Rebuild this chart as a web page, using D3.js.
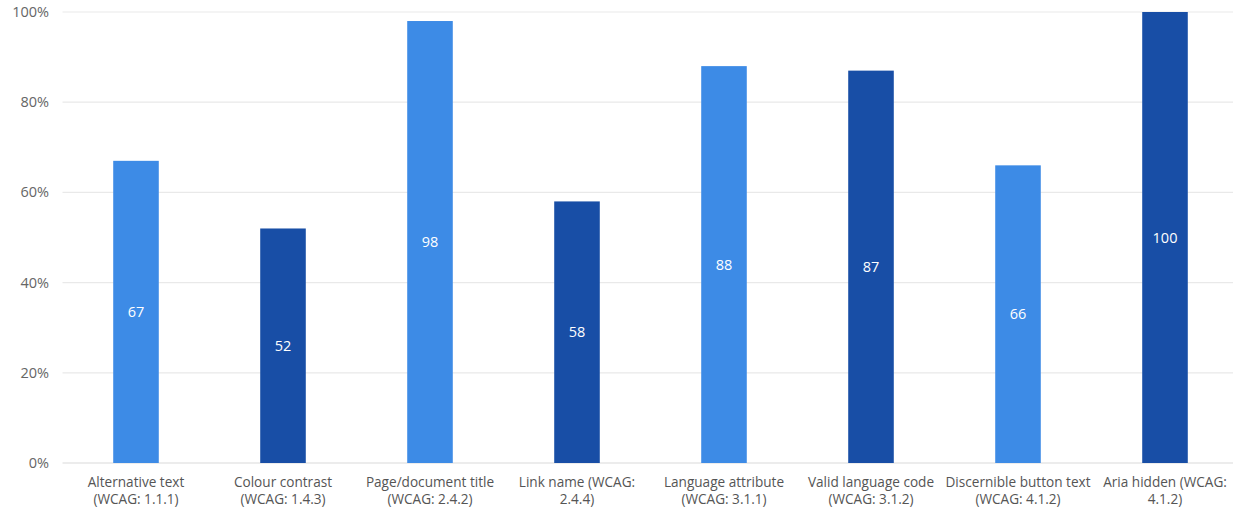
<!DOCTYPE html>
<html>
<head>
<meta charset="utf-8">
<script src="https://cdn.jsdelivr.net/npm/d3@7"></script>
<style>
  html, body { margin: 0; padding: 0; background: #fff; }
  svg { display: block; font-family: "Open Sans", "Noto Sans", sans-serif; }
</style>
</head>
<body>
<svg id="chart" width="1233" height="510"></svg>
<script>
// WCAG check pass rates (%)
const categories = [
  "Alternative text (WCAG: 1.1.1)",
  "Colour contrast (WCAG: 1.4.3)",
  "Page/document title (WCAG: 2.4.2)",
  "Link name (WCAG: 2.4.4)",
  "Language attribute (WCAG: 3.1.1)",
  "Valid language code (WCAG: 3.1.2)",
  "Discernible button text (WCAG: 4.1.2)",
  "Aria hidden (WCAG: 4.1.2)"
];
// wrapped label lines as they are set under each bar
const labelLines = [
  ["Alternative text", "(WCAG: 1.1.1)"],
  ["Colour contrast", "(WCAG: 1.4.3)"],
  ["Page/document title", "(WCAG: 2.4.2)"],
  ["Link name (WCAG:", "2.4.4)"],
  ["Language attribute", "(WCAG: 3.1.1)"],
  ["Valid language code", "(WCAG: 3.1.2)"],
  ["Discernible button text", "(WCAG: 4.1.2)"],
  ["Aria hidden (WCAG:", "4.1.2)"]
];
const values = [67, 52, 98, 58, 88, 87, 66, 100];
const yTicks = [0, 20, 40, 60, 80, 100];
const palette = ["#3d8be6", "#184ea6"];

const svg = d3.select("#chart");
const plotLeft = 62.5, plotRight = 1238.5, plotTop = 12, plotBottom = 463;

const x = d3.scaleBand().domain(categories).range([plotLeft, plotRight]).paddingInner(0.69).paddingOuter(0.345);
const y = d3.scaleLinear().domain([0, 100]).range([plotBottom, plotTop]);

// gridlines
svg.append("g").selectAll("line").data(yTicks).join("line")
  .attr("x1", plotLeft).attr("x2", 1233)
  .attr("y1", d => y(d)).attr("y2", d => y(d))
  .attr("stroke", d => d === 0 ? "#d9d9d9" : "#e9e9e9")
  .attr("stroke-width", 1.2);

// y tick labels
svg.append("g").selectAll("text").data(yTicks).join("text")
  .attr("x", 49).attr("y", d => y(d)).attr("dy", "0.35em")
  .attr("text-anchor", "end")
  .attr("fill", "#666").attr("font-size", 14.5)
  .text(d => d + "%");

// bars
svg.append("g").selectAll("rect").data(values).join("rect")
  .attr("x", (d, i) => x(categories[i]))
  .attr("width", x.bandwidth())
  .attr("y", d => y(d))
  .attr("height", d => y(0) - y(d))
  .attr("fill", (d, i) => palette[i % 2]);

// value labels centred in bars
svg.append("g").selectAll("text").data(values).join("text")
  .attr("x", (d, i) => x(categories[i]) + x.bandwidth() / 2)
  .attr("y", d => y(d / 2)).attr("dy", "0.35em")
  .attr("text-anchor", "middle")
  .attr("fill", "#fff").attr("font-size", 14.5)
  .text(d => d);

// category labels
const lab = svg.append("g").selectAll("text").data(categories).join("text")
  .attr("x", d => x(d) + x.bandwidth() / 2)
  .attr("y", 487)
  .attr("text-anchor", "middle")
  .attr("fill", "#555").attr("font-size", 13.6);
lab.each(function(d, i) {
  const t = d3.select(this);
  labelLines[i].forEach((line, k) => {
    t.append("tspan").attr("x", x(d) + x.bandwidth() / 2).attr("dy", k === 0 ? 0 : 17).text(line);
  });
});
</script>
</body>
</html>
